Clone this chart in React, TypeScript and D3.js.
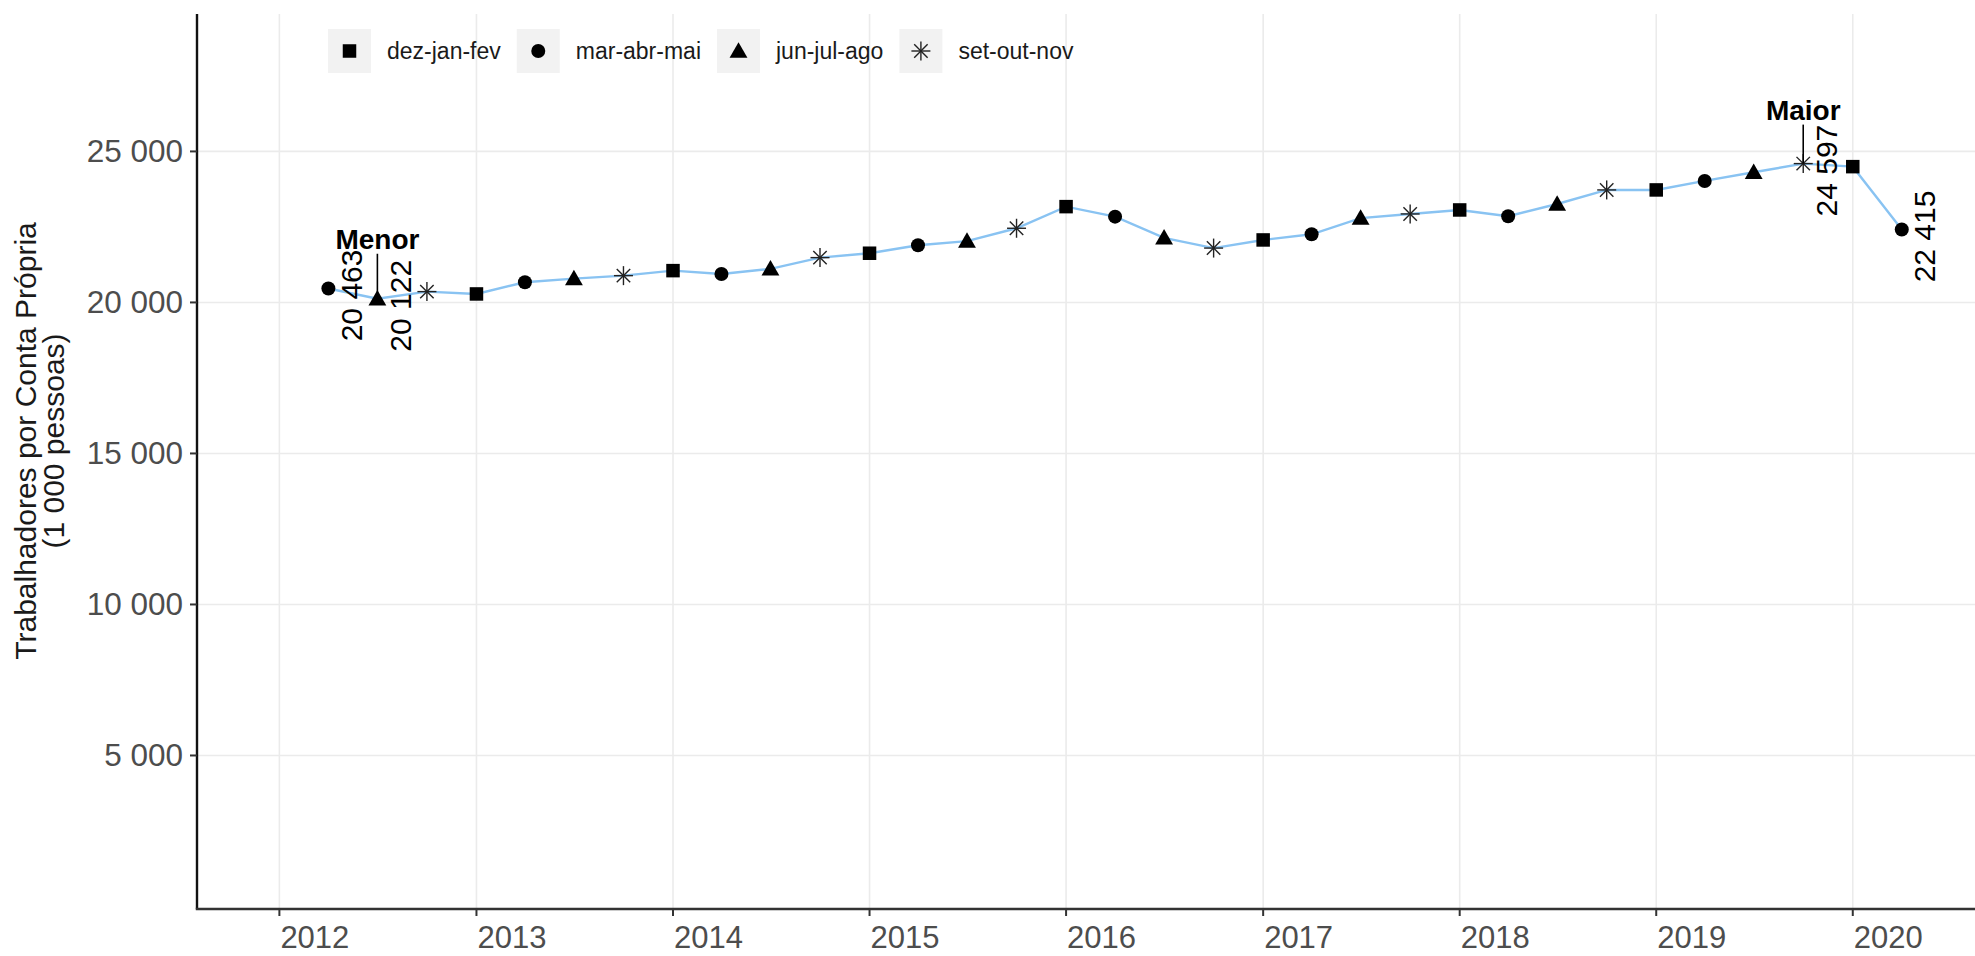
import React from "react";
import * as d3 from "d3";

// ---- data ----
const periods: string[] = [
  "2012-04-01", "2012-07-01", "2012-10-01",
  "2013-01-01", "2013-04-01", "2013-07-01", "2013-10-01",
  "2014-01-01", "2014-04-01", "2014-07-01", "2014-10-01",
  "2015-01-01", "2015-04-01", "2015-07-01", "2015-10-01",
  "2016-01-01", "2016-04-01", "2016-07-01", "2016-10-01",
  "2017-01-01", "2017-04-01", "2017-07-01", "2017-10-01",
  "2018-01-01", "2018-04-01", "2018-07-01", "2018-10-01",
  "2019-01-01", "2019-04-01", "2019-07-01", "2019-10-01",
  "2020-01-01", "2020-04-01",
];
const seasons: string[] = [
  "mar-abr-mai", "jun-jul-ago", "set-out-nov",
  "dez-jan-fev", "mar-abr-mai", "jun-jul-ago", "set-out-nov",
  "dez-jan-fev", "mar-abr-mai", "jun-jul-ago", "set-out-nov",
  "dez-jan-fev", "mar-abr-mai", "jun-jul-ago", "set-out-nov",
  "dez-jan-fev", "mar-abr-mai", "jun-jul-ago", "set-out-nov",
  "dez-jan-fev", "mar-abr-mai", "jun-jul-ago", "set-out-nov",
  "dez-jan-fev", "mar-abr-mai", "jun-jul-ago", "set-out-nov",
  "dez-jan-fev", "mar-abr-mai", "jun-jul-ago", "set-out-nov",
  "dez-jan-fev", "mar-abr-mai",
];
const values: number[] = [
  20463, 20122, 20358,
  20281, 20669, 20790, 20887,
  21053, 20943, 21110, 21484,
  21629, 21894, 22030, 22456,
  23172, 22841, 22140, 21800,
  22069, 22257, 22790, 22930,
  23062, 22854, 23260, 23725,
  23725, 24023, 24310, 24597,
  24496, 22415,
];
const legendLabels: string[] = ["dez-jan-fev", "mar-abr-mai", "jun-jul-ago", "set-out-nov"];
const yTicks: number[] = [5000, 10000, 15000, 20000, 25000];
const xTickYears: number[] = [2012, 2013, 2014, 2015, 2016, 2017, 2018, 2019, 2020];
const labeledIdx: number[] = [0, 1, 30, 32]; // value labels
const annotations = [
  { idx: 1, text: "Menor" },
  { idx: 30, text: "Maior" },
];
const yTitle: string[] = ["Trabalhadores por Conta Própria", "(1 000 pessoas)"];

// ---- layout ----
const W = 1975, H = 956;
const left = 197, right = 1975, top = 14, bottom = 908;
const FONT = "'Liberation Sans', Arial, sans-serif";

const fmt = (v: number) => d3.format(",")(v).replace(/,/g, " ");

function Symbol({ kind, x, y, s = 1 }: { kind: string; x: number; y: number; s?: number }) {
  if (kind === "dez-jan-fev") {
    const a = 13.5 * s;
    return <rect x={x - a / 2} y={y - a / 2} width={a} height={a} fill="#000" />;
  }
  if (kind === "mar-abr-mai") {
    return <circle cx={x} cy={y} r={7} fill="#000" />;
  }
  if (kind === "jun-jul-ago") {
    const r = 10.3 * s;
    const p = d3.range(3).map((i) => {
      const ang = -Math.PI / 2 + (i * 2 * Math.PI) / 3;
      return [x + r * Math.cos(ang), y + 1.5 * s + r * Math.sin(ang)];
    });
    return <polygon points={p.map((q) => q.join(",")).join(" ")} fill="#000" />;
  }
  const r = 9.5 * s;
  const d = r * Math.SQRT1_2;
  return (
    <g stroke="#222" strokeWidth={1.4}>
      <line x1={x - r} y1={y} x2={x + r} y2={y} />
      <line x1={x} y1={y - r} x2={x} y2={y + r} />
      <line x1={x - d} y1={y - d} x2={x + d} y2={y + d} />
      <line x1={x - d} y1={y + d} x2={x + d} y2={y - d} />
    </g>
  );
}

export default function App() {
  const parse = d3.timeParse("%Y-%m-%d");
  const dates = periods.map((p) => parse(p) as Date);
  const x = d3.scaleTime().domain([new Date(2011, 7, 1), new Date(2020, 7, 15)]).range([left, right]);
  const y = d3.scaleLinear().domain([-50, 29550]).range([bottom, top]);

  const line = d3.line<number>()
    .x((_, i) => x(dates[i]))
    .y((v) => y(v));

  // legend measurement
  const ctx = typeof document !== "undefined" ? document.createElement("canvas").getContext("2d") : null;
  const legFont = 23;
  if (ctx) ctx.font = `${legFont}px 'Liberation Sans'`;
  const measure = (t: string) => (ctx ? ctx.measureText(t).width : t.length * 11);
  let lx = 328;
  const legendItems = legendLabels.map((lab) => {
    const item = { lab, x: lx };
    lx += 43 + 16 + measure(lab) + 16;
    return item;
  });

  return (
    <svg width={W} height={H} style={{ position: "absolute", left: 0, top: 0, background: "#fff" }} fontFamily={FONT}>
      {/* grid */}
      <g stroke="#ebebeb" strokeWidth={1.6}>
        {xTickYears.map((yr) => (
          <line key={yr} x1={x(new Date(yr, 0, 1))} x2={x(new Date(yr, 0, 1))} y1={top} y2={bottom} />
        ))}
        {yTicks.map((t) => (
          <line key={t} x1={left} x2={right} y1={y(t)} y2={y(t)} />
        ))}
      </g>

      {/* legend */}
      {legendItems.map((it) => (
        <g key={it.lab}>
          <rect x={it.x} y={29} width={43} height={44} fill="#f2f2f2" />
          <Symbol kind={it.lab} x={it.x + 21.5} y={51} />
          <text x={it.x + 43 + 16} y={51} dominantBaseline="central" fontSize={legFont} fill="#1a1a1a">{it.lab}</text>
        </g>
      ))}

      {/* line */}
      <path d={line(values) || ""} fill="none" stroke="#89c3f2" strokeWidth={2.4} />

      {/* points */}
      {values.map((v, i) => (
        <Symbol key={i} kind={seasons[i]} x={x(dates[i])} y={y(v)} />
      ))}

      {/* annotations */}
      {annotations.map((a) => {
        const px = x(dates[a.idx]);
        const py = y(values[a.idx]);
        const isMin = a.text === "Menor";
        const tb = isMin ? py - 50 : py - 44;
        return (
          <g key={a.text}>
            <line x1={px} x2={px} y1={tb + 5} y2={py} stroke="#000" strokeWidth={1.6} />
            <text x={px} y={tb} textAnchor="middle" fontSize={28} fontWeight="bold" fill="#000">{a.text}</text>
          </g>
        );
      })}

      {/* value labels */}
      {labeledIdx.map((i) => {
        const px = x(dates[i]) + 23;
        const py = y(values[i]) + 7;
        return (
          <text key={i} transform={`translate(${px},${py}) rotate(-90)`} textAnchor="middle" dominantBaseline="central" fontSize={30} fill="#000">
            {fmt(values[i])}
          </text>
        );
      })}

      {/* axes */}
      <line x1={left} x2={left} y1={top} y2={bottom + 1.2} stroke="#111" strokeWidth={2.4} />
      <line x1={left - 1.2} x2={right} y1={bottom + 1} y2={bottom + 1} stroke="#333" strokeWidth={2.6} />
      {yTicks.map((t) => (
        <g key={t}>
          <line x1={left - 7} x2={left} y1={y(t)} y2={y(t)} stroke="#333" strokeWidth={2} />
          <text x={left - 14} y={y(t)} textAnchor="end" dominantBaseline="central" fontSize={31.5} fill="#4d4d4d">{fmt(t)}</text>
        </g>
      ))}
      {xTickYears.map((yr) => {
        const tx = x(new Date(yr, 0, 1));
        return (
          <g key={yr}>
            <line x1={tx} x2={tx} y1={bottom} y2={bottom + 8} stroke="#333" strokeWidth={2} />
            <text x={tx + 1} y={948} fontSize={31} fill="#4d4d4d">{yr}</text>
          </g>
        );
      })}

      {/* y title */}
      <text transform={`translate(0,${(top + bottom) / 2 - 20}) rotate(-90)`} textAnchor="middle" fontSize={30} fill="#1a1a1a">
        <tspan x={0} y={36}>{yTitle[0]}</tspan>
        <tspan x={0} y={64}>{yTitle[1]}</tspan>
      </text>
    </svg>
  );
}
